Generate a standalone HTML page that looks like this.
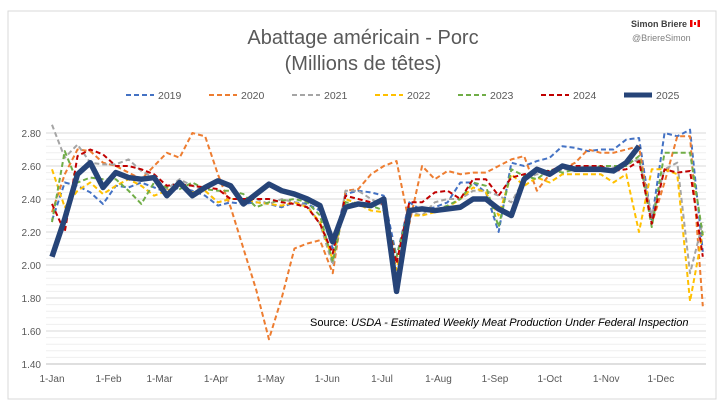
<!DOCTYPE html>
<html><head><meta charset="utf-8"><style>
body{margin:0;background:#fff;font-family:"Liberation Sans",sans-serif}
svg text{font-family:"Liberation Sans",sans-serif}
</style></head><body>
<svg id="chart" width="726" height="403">
<rect x="8" y="11" width="708" height="388" fill="#fff" stroke="#d9d9d9"/>
<text x="363" y="44" text-anchor="middle" font-size="20" fill="#595959">Abattage américain - Porc</text>
<text x="363" y="70" text-anchor="middle" font-size="20" fill="#595959">(Millions de têtes)</text>
<text x="687" y="27" text-anchor="end" font-size="9" font-weight="bold" fill="#404040">Simon Briere</text>
<g><rect x="690" y="20" width="10" height="7" fill="#fff"/><rect x="690" y="20" width="2.5" height="7" fill="#e00"/><rect x="697.5" y="20" width="2.5" height="7" fill="#e00"/><rect x="694" y="22" width="2" height="3" fill="#e00"/></g>
<text x="632" y="41" font-size="9" fill="#7f7f7f">@BriereSimon</text>
<g id="grid"></g><g id="axes"></g><g id="legend"></g><g id="series"></g>
<text x="310" y="326" font-size="11" fill="#000">Source: <tspan font-style="italic">USDA - Estimated Weekly Meat Production Under Federal Inspection</tspan></text>
</svg>
<script>
const years=["2019","2020","2021","2022","2023","2024","2025"];
const colors=["#4472c4","#ed7d31","#a5a5a5","#ffc000","#70ad47","#c00000","#264478"];
const s2019=[2.27,2.50,2.48,2.44,2.37,2.48,2.47,2.50,2.47,2.44,2.47,2.45,2.42,2.36,2.38,2.37,2.38,2.37,2.35,2.38,2.37,2.33,2.10,2.43,2.45,2.44,2.42,2.05,2.38,2.33,2.35,2.38,2.50,2.50,2.44,2.20,2.62,2.60,2.63,2.65,2.72,2.71,2.69,2.70,2.70,2.76,2.77,2.27,2.80,2.78,2.82,2.08];
const s2020=[2.32,2.55,2.70,2.69,2.62,2.60,2.56,2.52,2.60,2.68,2.65,2.80,2.78,2.55,2.35,2.10,1.85,1.55,1.80,2.10,2.13,2.15,1.95,2.45,2.46,2.55,2.60,2.63,2.25,2.60,2.52,2.57,2.55,2.56,2.56,2.60,2.64,2.66,2.45,2.55,2.58,2.62,2.70,2.68,2.68,2.70,2.72,2.25,2.50,2.78,2.78,1.75];
const s2021=[2.85,2.65,2.73,2.62,2.61,2.61,2.64,2.57,2.53,2.46,2.52,2.48,2.45,2.38,2.40,2.40,2.40,2.37,2.40,2.38,2.36,2.25,2.00,2.45,2.45,2.40,2.36,1.92,2.32,2.30,2.38,2.40,2.40,2.45,2.45,2.42,2.38,2.52,2.55,2.55,2.58,2.58,2.60,2.58,2.59,2.61,2.64,2.30,2.58,2.62,1.95,2.26];
const s2022=[2.58,2.35,2.45,2.50,2.43,2.48,2.52,2.48,2.42,2.45,2.48,2.44,2.45,2.38,2.40,2.40,2.38,2.37,2.36,2.38,2.35,2.26,2.03,2.40,2.37,2.33,2.32,1.97,2.30,2.30,2.32,2.35,2.40,2.47,2.44,2.30,2.55,2.48,2.53,2.50,2.55,2.55,2.55,2.55,2.50,2.55,2.20,2.58,2.58,2.55,1.78,2.20];
const s2023=[2.26,2.69,2.50,2.53,2.52,2.52,2.45,2.37,2.50,2.47,2.46,2.50,2.46,2.45,2.45,2.43,2.35,2.38,2.39,2.40,2.38,2.30,2.02,2.38,2.37,2.36,2.33,2.05,2.35,2.33,2.33,2.36,2.40,2.50,2.48,2.23,2.58,2.54,2.52,2.58,2.56,2.58,2.58,2.60,2.60,2.60,2.66,2.23,2.68,2.68,2.68,2.18];
const s2024=[2.37,2.20,2.66,2.70,2.67,2.60,2.60,2.58,2.55,2.48,2.49,2.48,2.47,2.46,2.40,2.40,2.40,2.40,2.38,2.37,2.35,2.25,2.07,2.42,2.40,2.38,2.37,2.01,2.38,2.38,2.44,2.45,2.40,2.52,2.52,2.42,2.53,2.55,2.57,2.57,2.60,2.60,2.60,2.60,2.57,2.58,2.63,2.25,2.58,2.56,2.57,2.05];
const s2025=[2.05,2.28,2.55,2.62,2.47,2.56,2.53,2.52,2.53,2.42,2.50,2.42,2.47,2.51,2.48,2.37,2.43,2.49,2.45,2.43,2.40,2.36,2.14,2.35,2.37,2.36,2.40,1.84,2.33,2.34,2.33,2.34,2.35,2.40,2.40,2.34,2.30,2.52,2.58,2.55,2.60,2.58,2.58,2.58,2.57,2.62,2.72];
const yTicks=[2.80,2.60,2.40,2.20,2.00,1.80,1.60,1.40];
const xTicks=["1-Jan","1-Feb","1-Mar","1-Apr","1-May","1-Jun","1-Jul","1-Aug","1-Sep","1-Oct","1-Nov","1-Dec"];
const xTickDays=[0,31,59,90,120,151,181,212,243,273,304,334];
const NS="http://www.w3.org/2000/svg";
const y=v=>133+(2.80-v)*165;
const xd=d=>52+d*1.823;
const xw=i=>xd(i*7);
function mk(tag,attrs,parent){const e=document.createElementNS(NS,tag);for(const k in attrs)e.setAttribute(k,attrs[k]);parent.appendChild(e);return e;}
const grid=document.getElementById('grid'),axes=document.getElementById('axes');
for(let v=1.40;v<=2.801;v+=0.04){const g=mk('line',{x1:46,x2:706,y1:y(v),y2:y(v),stroke:Math.abs(((v-1.4)/0.2)-Math.round((v-1.4)/0.2))<0.01?'#d9d9d9':'#efefef','stroke-width':1},grid);

}
mk('line',{x1:46,x2:706,y1:y(1.40),y2:y(1.40),stroke:'#bfbfbf'},axes);
yTicks.forEach(v=>{const t=mk('text',{x:41,y:y(v)+4,'text-anchor':'end','font-size':10,fill:'#595959'},axes);t.textContent=v.toFixed(2);

});
xTicks.forEach((l,i)=>{const t=mk('text',{x:xd(xTickDays[i]),y:382,'text-anchor':'middle','font-size':10,fill:'#595959'},axes);t.textContent=l;

});
const all=[s2019,s2020,s2021,s2022,s2023,s2024,s2025];
const ser=document.getElementById('series'),leg=document.getElementById('legend');
all.forEach((d,k)=>{const last=k===6;
const p=mk('polyline',{points:d.map((v,i)=>xw(i)+','+y(v)).join(' '),fill:'none',stroke:colors[k],'stroke-width':last?5.5:2,'stroke-dasharray':last?'none':'5,3','stroke-linejoin':'round'},ser);


const lx=126+k*83;
const g=mk('g',{},leg);


mk('line',{x1:lx,x2:lx+28,y1:95,y2:95,stroke:colors[k],'stroke-width':last?5:2,'stroke-dasharray':last?'none':'5,3'},g);
const t=mk('text',{x:lx+32,y:99,'font-size':10.5,fill:'#595959'},g);t.textContent=years[k];});
</script>
</body></html>
